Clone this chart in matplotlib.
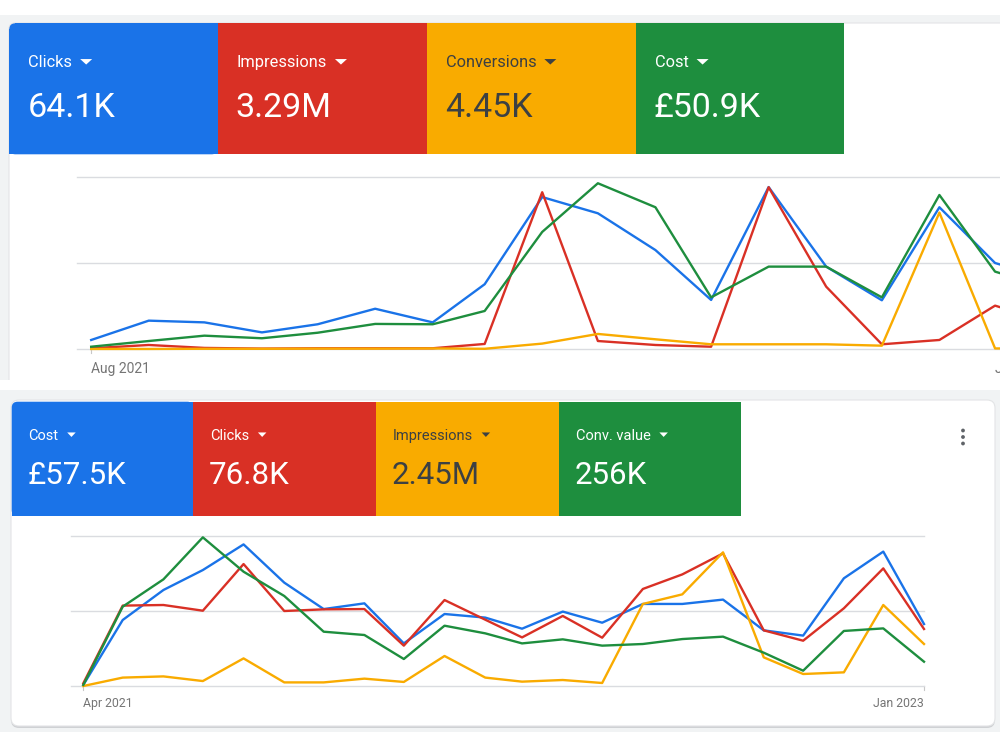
import matplotlib
matplotlib.use("Agg")
import matplotlib.pyplot as plt
import matplotlib.dates as mdates
from matplotlib.patches import Rectangle, FancyBboxPatch, Polygon, Circle
import pandas as pd

plt.rcParams['font.family'] = ['Roboto', 'DejaVu Sans']

# ---------------- data ----------------
# Top panel (monthly, from Aug 2021)
top_labels = ["Clicks", "Impressions", "Conversions", "Cost"]
top_values = ["64.1K", "3.29M", "4.45K", "£50.9K"]
top_start = "2021-08-01"
top_clicks = [5.4, 16.6, 15.6, 9.8, 14.5, 23.5, 15.6, 37.7, 88.2, 78.8, 57.5, 28.6, 94.0, 47.9, 28.4, 82.3, 50.0, 40.0]
top_impr = [0.6, 2.5, 0.8, 0.4, 0.6, 0.6, 0.6, 3.1, 91.0, 4.8, 2.5, 1.5, 93.9, 36.3, 2.9, 5.4, 25.3, 15.0]
top_conv = [0.2, 0.2, 0.3, 0.3, 0.4, 0.4, 0.5, 0.3, 3.3, 8.9, 5.8, 2.9, 2.9, 2.9, 2.1, 79.2, 0.5, 0.5]
top_cost = [1.5, 4.8, 7.9, 6.4, 9.6, 14.7, 14.5, 22.2, 68.0, 96.2, 82.3, 30.1, 47.9, 47.9, 30.1, 89.4, 45.0, 35.0]
top_ticks = ["Aug 2021", "Jan 2023"]

# Bottom panel (monthly, Apr 2021 - Jan 2023)
bot_labels = ["Cost", "Clicks", "Impressions", "Conv. value"]
bot_values = ["£57.5K", "76.8K", "2.45M", "256K"]
bot_start = "2021-04-01"
bot_cost = [0.7, 44.0, 64.0, 77.3, 94.4, 68.9, 51.3, 55.1, 28.4, 48.0, 45.6, 38.2, 49.6, 42.2, 54.7, 54.7, 57.6, 37.1, 33.6, 71.8, 89.6, 41.3]
bot_clicks = [1.8, 53.6, 54.0, 50.2, 81.3, 50.0, 51.1, 51.3, 26.9, 57.3, 44.2, 32.4, 46.7, 32.2, 64.7, 74.4, 88.4, 37.1, 30.2, 51.8, 78.4, 38.0]
bot_impr = [0.0, 5.6, 6.4, 3.3, 18.4, 2.4, 2.4, 4.9, 2.7, 20.0, 5.6, 2.9, 4.0, 2.0, 54.7, 61.1, 89.1, 19.1, 8.0, 9.1, 54.0, 28.0]
bot_conv = [0.7, 52.9, 71.1, 99.1, 76.2, 60.0, 36.2, 34.0, 18.0, 40.2, 35.1, 28.4, 31.1, 26.9, 28.0, 31.3, 32.9, 22.2, 10.2, 36.7, 38.4, 16.2]
bot_ticks = ["Apr 2021", "Jan 2023"]

BLUE, RED, YELLOW, GREEN = "#1a73e8", "#d93025", "#f9ab00", "#1e8e3e"
tile_colors = [BLUE, RED, YELLOW, GREEN]
text_colors = ["white", "white", "#3c4043", "white"]
GRID = "#dadce0"
BGGRAY = "#f1f3f4"
TICKC = "#757575"

W, H = 1000, 750
fig = plt.figure(figsize=(10, 7.5), dpi=100)
fig.patch.set_facecolor("white")
bg = fig.add_axes([0, 0, 1, 1])
bg.set_xlim(0, W)
bg.set_ylim(H, 0)
bg.axis("off")


def rect(x0, y0, x1, y1, color, z=1, **kw):
    bg.add_patch(Rectangle((x0, y0), x1 - x0, y1 - y0, facecolor=color,
                           edgecolor=kw.pop("ec", "none"), zorder=z, **kw))


def rrect(x0, y0, x1, y1, color, r, z=1, **kw):
    bg.add_patch(FancyBboxPatch((x0, y0), x1 - x0, y1 - y0,
                                boxstyle=f"round,pad=0,rounding_size={r}",
                                facecolor=color, zorder=z, **kw))


# ---------- backgrounds ----------
# top screenshot
rect(0, 15, W, 380, BGGRAY, z=0)
rrect(9, 23, W + 20, 420, "white", 6, z=0.5, edgecolor="#e3e4e6", linewidth=0.8)
rect(0, 380, W, 390, "white", z=0.6)
# bottom screenshot
rect(0, 390, W, 732, BGGRAY, z=0.7)
rrect(11, 402, 995, 728, "#cfd1d4", 8, z=0.75, edgecolor="none")
rrect(11, 400, 995, 726, "white", 8, z=0.8, edgecolor="#e3e4e6", linewidth=0.8)

renderer = fig.canvas.get_renderer()


def tiles(x_edges, y0, y1, labels, values, lab_base, val_base, lab_fs, val_fs,
          offset, tri_w, tri_h, tri_gap, tri_yc, first_round):
    for i, (lab, val) in enumerate(zip(labels, values)):
        xa, xb = x_edges[i], x_edges[i + 1]
        c = tile_colors[i]
        if i == 0 and first_round:
            rrect(xa, y0, xb, y1, c, 6, z=2, edgecolor="none")
            rect(xa + 6, y0, xb, y1, c, z=2)
            rect(xa, y0 + 6, xb, y1, c, z=2)
        else:
            rect(xa, y0, xb, y1, c, z=2)
        t = bg.text(xa + offset, lab_base, lab, color=text_colors[i],
                    fontsize=lab_fs, va="baseline", ha="left", zorder=3)
        bg.text(xa + offset - 1, val_base, val, color=text_colors[i],
                fontsize=val_fs, va="baseline", ha="left", zorder=3)
        bb = t.get_window_extent(renderer)
        tx = bb.x1 + tri_gap
        bg.add_patch(Polygon([(tx, tri_yc - tri_h / 2), (tx + tri_w, tri_yc - tri_h / 2),
                              (tx + tri_w / 2, tri_yc + tri_h / 2)], closed=True,
                             facecolor=text_colors[i], edgecolor="none", zorder=3))


tiles([9.3, 217.7, 426.7, 635.7, 844.3], 23.3, 154.3, top_labels, top_values,
      66.7, 116.7, 11.8, 24.5, 19, 12, 5.5, 8, 61.8, True)
tiles([11.7, 193.3, 376, 559, 741.3], 401.7, 516, bot_labels, bot_values,
      440, 484, 10.5, 22.5, 16.5, 8.5, 4.5, 9, 434.7, True)

# menu dots
for yy in (430.5, 437, 443.5):
    bg.add_patch(Circle((963, yy), 1.9, facecolor="#5f6368", edgecolor="none", zorder=3))


# ---------- charts ----------
def chart(x_left, x_right, y_top, y_bot, first_px, day_px, start, series, colors,
          ticks, tick_fs, tick_base, grid_right, last_label_right):
    n = len(series[0])
    dates = pd.date_range(start, periods=n, freq="MS")
    dnum = mdates.date2num(dates)
    ax = fig.add_axes([x_left / W, 1 - y_bot / H, (x_right - x_left) / W, (y_bot - y_top) / H])
    ax.set_facecolor("none")
    x0 = dnum[0] - (first_px - x_left) / day_px
    x1 = dnum[0] + (x_right - first_px) / day_px
    ax.set_xlim(x0, x1)
    ax.set_ylim(0, 100)
    ax.axis("off")
    gx1 = dnum[0] + (grid_right - first_px) / day_px
    for gy in (0, 50, 100):
        ax.plot([x0, gx1], [gy, gy], color=GRID, lw=1.0, zorder=1, clip_on=False)
    for s, c in zip(series, colors):
        ax.plot(dnum, s, color=c, lw=1.7, zorder=3, clip_on=False,
                solid_joinstyle="round")
    # ticks and labels
    px_last = first_px + (dnum[-1] - dnum[0]) * day_px
    for px in (first_px, px_last):
        bg.plot([px, px], [y_bot, y_bot + 4], color="#c8c8c8", lw=0.8, zorder=2)
    bg.text(first_px, tick_base, ticks[0], fontsize=tick_fs, color=TICKC,
            ha="left", va="baseline", zorder=3)
    bg.text(px_last, tick_base, ticks[1], fontsize=tick_fs, color=TICKC,
            ha="right", va="baseline", zorder=3)
    return ax


chart(77, 1000, 176.7, 349.3, 91.2, 1.856, top_start,
      [top_clicks, top_impr, top_conv, top_cost], [BLUE, RED, YELLOW, GREEN],
      top_ticks, 10, 372.7, 1000, True)
chart(71, 924, 536, 686, 83.3, 1.3136, bot_start,
      [bot_cost, bot_clicks, bot_impr, bot_conv], [BLUE, RED, YELLOW, GREEN],
      bot_ticks, 8.8, 707, 924, True)

fig.savefig("out.png", dpi=100, facecolor="white")
